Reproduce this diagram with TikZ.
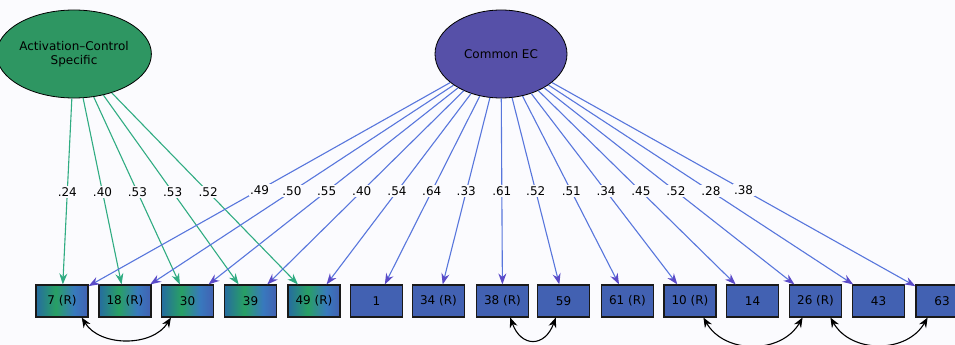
\documentclass[tikz,border=0pt]{standalone}
\usepackage{fontspec}
\setmainfont{DejaVu Sans}
\usetikzlibrary{positioning}
\usetikzlibrary{calc}
\usetikzlibrary{shapes.geometric}
\usetikzlibrary{arrows.meta}

\definecolor{bgcol}{RGB}{251,251,254}
\definecolor{acgreen}{RGB}{46,150,98}
\definecolor{ecpurple}{RGB}{86,80,168}
\definecolor{boxblue}{RGB}{66,97,178}
\definecolor{boxgreen}{RGB}{40,160,100}
\definecolor{boxteal}{RGB}{38,108,160}
\definecolor{gline}{RGB}{48,172,130}
\definecolor{bline}{RGB}{88,118,220}
\definecolor{btip}{RGB}{90,74,200}

\pgfdeclarehorizontalshading{itemshade}{100bp}{color(0bp)=(boxteal);
    color(25bp)=(boxteal); color(44bp)=(boxgreen); color(62bp)=(boxblue!85!cyan);
    color(75bp)=(boxblue); color(100bp)=(boxblue)}

\begin{document}
\begin{tikzpicture}[x=1pt, y=-1pt,
    latent/.style  = {ellipse, draw=black, line width=0.8pt, minimum width=132pt,
                      minimum height=88pt, inner sep=0pt, align=center,
                      font=\fontsize{12}{14}\selectfont},
    item/.style    = {rectangle, draw=black!90, line width=1.1pt, fill=boxblue,
                      minimum width=52pt, minimum height=32pt, inner sep=0pt,
                      font=\fontsize{12}{14}\selectfont},
    mixed/.style   = {item, shading=itemshade},
    gpath/.style   = {draw=gline, line width=1.1pt, -{Stealth[length=11pt,width=8pt]}},
    bpath/.style   = {draw=bline, line width=1.1pt,
                      -{Stealth[length=11pt,width=8pt,color=btip]}},
    load/.style    = {fill=bgcol, inner sep=1.5pt, font=\fontsize{12}{14}\selectfont},
    cov/.style     = {draw=black, line width=1.1pt,
                      {Stealth[length=10pt,width=8pt]}-{Stealth[length=10pt,width=8pt]}}]
    \useasboundingbox (0,0) rectangle (955,345);
    \clip (0,0) rectangle (955,345);
    \fill[bgcol] (0,0) rectangle (955,345);

    % factors
    \node[latent, fill=acgreen]  (ac) at (74,54)  {Activation–Control\\Specific};
    \node[latent, fill=ecpurple] (ec) at (501,54) {Common EC};

    % items
    \node[mixed] (b7)  at (62,301)    {7 (R)};
    \node[mixed] (b18) at (125,301)   {18 (R)};
    \node[mixed] (b30) at (187.5,301) {30};
    \node[mixed] (b39) at (250.5,301) {39};
    \node[mixed] (b49) at (314,301)   {49 (R)};
    \node[item]  (b1)  at (376.5,301) {1};
    \node[item]  (b34) at (438.5,301) {34 (R)};
    \node[item]  (b38) at (502.5,301) {38 (R)};
    \node[item]  (b59) at (563.5,301) {59};
    \node[item]  (b61) at (627.5,301) {61 (R)};
    \node[item]  (b10) at (690,301)   {10 (R)};
    \node[item]  (b14) at (752.5,301) {14};
    \node[item]  (b26) at (815.5,301) {26 (R)};
    \node[item]  (b43) at (878.5,301) {43};
    \node[item]  (b63) at (942,301)   {63};

    % loadings
    \draw[gpath] (ac) -- (b7);
    \draw[gpath] (ac) -- (b18);
    \draw[gpath] (ac) -- (b30);
    \draw[gpath] (ac) -- (b39);
    \draw[gpath] (ac) -- (b49);
    \draw[bpath] (ec) -- (b7);
    \draw[bpath] (ec) -- (b18);
    \draw[bpath] (ec) -- (b30);
    \draw[bpath] (ec) -- (b39);
    \draw[bpath] (ec) -- (b49);
    \draw[bpath] (ec) -- (b1);
    \draw[bpath] (ec) -- (b34);
    \draw[bpath] (ec) -- (b38);
    \draw[bpath] (ec) -- (b59);
    \draw[bpath] (ec) -- (b61);
    \draw[bpath] (ec) -- (b10);
    \draw[bpath] (ec) -- (b14);
    \draw[bpath] (ec) -- (b26);
    \draw[bpath] (ec) -- (b43);
    \draw[bpath] (ec) -- (b63);

    \node[load] at ($(ac)!0.559!(b7)$)  {.24};
    \node[load] at ($(ac)!0.559!(b18)$) {.40};
    \node[load] at ($(ac)!0.559!(b30)$) {.53};
    \node[load] at ($(ac)!0.559!(b39)$) {.53};
    \node[load] at ($(ac)!0.559!(b49)$) {.52};
    \node[load] at ($(ec)!0.55!(b7)$)   {.49};
    \node[load] at ($(ec)!0.556!(b18)$) {.50};
    \node[load] at ($(ec)!0.556!(b30)$) {.55};
    \node[load] at ($(ec)!0.556!(b39)$) {.40};
    \node[load] at ($(ec)!0.556!(b49)$) {.54};
    \node[load] at ($(ec)!0.556!(b1)$)  {.64};
    \node[load] at ($(ec)!0.556!(b34)$) {.33};
    \node[load] at ($(ec)!0.556!(b38)$) {.61};
    \node[load] at ($(ec)!0.556!(b59)$) {.52};
    \node[load] at ($(ec)!0.556!(b61)$) {.51};
    \node[load] at ($(ec)!0.556!(b10)$) {.34};
    \node[load] at ($(ec)!0.556!(b14)$) {.45};
    \node[load] at ($(ec)!0.556!(b26)$) {.52};
    \node[load] at ($(ec)!0.556!(b43)$) {.28};
    \node[load] at ($(ec)!0.55!(b63)$)  {.38};

    % residual covariances
    \draw[cov] (b7.-40)  to[bend right=58] (b30.-135);
    \draw[cov] (b38.-65) to[out=-70, in=-110, looseness=1.8] (b59.-115);
    \draw[cov] (b10.-51) to[bend right=60, looseness=1.1] (b26.-128);
    \draw[cov] (b26.-48) to[bend right=60, looseness=1.1] (b63.-131);
\end{tikzpicture}
\end{document}
